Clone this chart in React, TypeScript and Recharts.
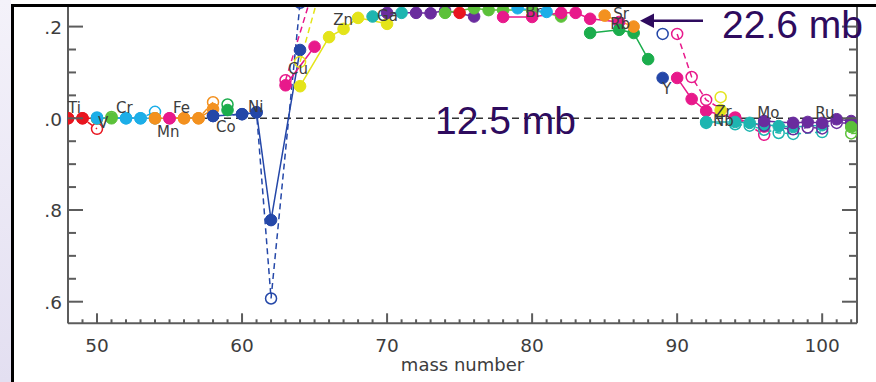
import { LineChart, Line, XAxis, YAxis, ReferenceLine, ReferenceDot } from "recharts";

type Pt = [number, number];

// [mass number, ratio] — filled symbols joined by solid lines, open symbols by dashed lines
const tiFilled: Pt[] = [[46, 1.0], [47, 1.0], [48, 1.0], [49, 1.0], [50, 1.0]];
const tiOpen: Pt[] = [[46, 1.0], [47, 1.0], [48, 1.0], [49, 1.0], [50, 0.977]];
const vFilled: Pt[] = [[50, 1.0], [51, 1.0]];
const vOpen: Pt[] = [[50, 1.0], [51, 1.003]];
const crFilled: Pt[] = [[50, 1.0], [52, 1.0], [53, 1.0], [54, 1.0]];
const crOpen: Pt[] = [[50, 1.002], [52, 1.0], [53, 1.0], [54, 1.014]];
const mnFilled: Pt[] = [[55, 1.0]];
const mnOpen: Pt[] = [[55, 1.0]];
const feFilled: Pt[] = [[54, 1.0], [56, 1.0], [57, 1.0], [58, 1.02]];
const feOpen: Pt[] = [[54, 1.0], [56, 1.0], [57, 1.0], [58, 1.035]];
const coFilled: Pt[] = [[59, 1.018]];
const coOpen: Pt[] = [[59, 1.03]];
const niFilled: Pt[] = [[58, 1.005], [60, 1.009], [61, 1.013], [62, 0.778], [64, 1.149]];
const niOpen: Pt[] = [[58, 1.005], [60, 1.009], [61, 1.013], [62, 0.607], [64, 1.252]];
const cuFilled: Pt[] = [[63, 1.072], [65, 1.156]];
const cuOpen: Pt[] = [[63, 1.083], [65, 1.29]];
const znFilled: Pt[] = [[64, 1.07], [66, 1.177], [67, 1.195], [68, 1.219], [70, 1.206]];
const znOpen: Pt[] = [[64, 1.123], [66, 1.35]];
const gaFilled: Pt[] = [[69, 1.222], [71, 1.23]];
const geFilled: Pt[] = [[70, 1.23], [72, 1.23], [73, 1.229], [74, 1.235], [76, 1.222]];
const asFilled: Pt[] = [[75, 1.23]];
const seFilled: Pt[] = [[74, 1.23], [76, 1.24], [77, 1.236], [78, 1.236], [80, 1.236], [82, 1.222]];
const brFilled: Pt[] = [[79, 1.24], [81, 1.232]];
const krFilled: Pt[] = [[78, 1.221], [80, 1.221], [82, 1.23], [83, 1.23], [84, 1.217], [86, 1.21]];
const rbFilled: Pt[] = [[85, 1.224], [87, 1.2]];
const srFilled: Pt[] = [[84, 1.186], [86, 1.193], [87, 1.186], [88, 1.129]];
const yFilled: Pt[] = [[89, 1.088]];
const yOpen: Pt[] = [[89, 1.184]];
const zrFilled: Pt[] = [[90, 1.088], [91, 1.042], [92, 1.016], [94, 1.0], [96, 0.982]];
const zrOpen: Pt[] = [[90, 1.184], [91, 1.09], [92, 1.04], [94, 1.002], [96, 0.964]];
const nbFilled: Pt[] = [[93, 1.018]];
const nbOpen: Pt[] = [[93, 1.046]];
const moFilled: Pt[] = [[92, 0.992], [94, 0.992], [95, 0.99], [96, 0.986], [97, 0.983], [98, 0.981], [100, 0.985]];
const moOpen: Pt[] = [[92, 0.99], [94, 0.987], [95, 0.984], [96, 0.975], [97, 0.968], [98, 0.966], [100, 0.97]];
const ruFilled: Pt[] = [[96, 0.994], [98, 0.99], [99, 0.992], [100, 0.99], [101, 0.998], [102, 0.994], [104, 0.99]];
const ruOpen: Pt[] = [[96, 0.984], [98, 0.976], [99, 0.98], [100, 0.978], [101, 0.99], [102, 0.99], [104, 0.985]];
const pdFilled: Pt[] = [[102, 0.981], [104, 0.98]];
const pdOpen: Pt[] = [[102, 0.967], [104, 0.97]];

// element names and where they are written (mass number, ratio)
const elementLabels: [string, number, number][] = [
  ["Ti", 48.0, 1.0116],
  ["V", 50.07, 0.979],
  ["Cr", 51.31, 1.0116],
  ["Mn", 54.14, 0.959],
  ["Fe", 55.24, 1.0116],
  ["Co", 58.21, 0.97],
  ["Ni", 60.41, 1.0137],
  ["Cu", 63.17, 1.0966],
  ["Zn", 66.28, 1.2035],
  ["Ga", 69.31, 1.2122],
  ["Ge", 72.55, 1.244],
  ["As", 75.03, 1.244],
  ["Br", 79.52, 1.221],
  ["Sr", 85.59, 1.2166],
  ["Rb", 85.38, 1.195],
  ["Y", 88.97, 1.053],
  ["Zr", 92.62, 1.0028],
  ["Nb", 92.48, 0.983],
  ["Mo", 95.52, 1.0007],
  ["Ru", 99.52, 1.0007],
];

const xMajor = [50, 60, 70, 80, 90, 100];
const xTicks = Array.from({ length: 55 }, (_, i) => 48 + i);
const yMajor = [0.6, 0.8, 1.0, 1.2];
const yMajorLabels = [".6", ".8", ".0", ".2"];
const yTicks = [0.6, 0.65, 0.7, 0.75, 0.8, 0.85, 0.9, 0.95, 1.0, 1.05, 1.1, 1.15, 1.2];

const RED = "#e8151f";
const CYAN = "#1caee8";
const LGREEN = "#5cc13a";
const GREEN = "#1bad4c";
const ORANGE = "#f3911f";
const MAGENTA = "#e8198b";
const BLUE = "#2447a8";
const YELLOW = "#e4e41a";
const TEAL = "#1eb5b0";
const PURPLE = "#6a2c9e";

const series = [
  { id: "ti", color: RED, filled: tiFilled, open: tiOpen },
  { id: "v", color: LGREEN, filled: vFilled, open: vOpen },
  { id: "cr", color: CYAN, filled: crFilled, open: crOpen },
  { id: "mn", color: MAGENTA, filled: mnFilled, open: mnOpen },
  { id: "fe", color: ORANGE, filled: feFilled, open: feOpen },
  { id: "co", color: GREEN, filled: coFilled, open: coOpen },
  { id: "ni", color: BLUE, filled: niFilled, open: niOpen },
  { id: "cu", color: MAGENTA, filled: cuFilled, open: cuOpen },
  { id: "zn", color: YELLOW, filled: znFilled, open: znOpen },
  { id: "ga", color: TEAL, filled: gaFilled, open: [] as Pt[] },
  { id: "ge", color: PURPLE, filled: geFilled, open: [] as Pt[] },
  { id: "se", color: LGREEN, filled: seFilled, open: [] as Pt[] },
  { id: "as", color: RED, filled: asFilled, open: [] as Pt[] },
  { id: "kr", color: MAGENTA, filled: krFilled, open: [] as Pt[] },
  { id: "br", color: CYAN, filled: brFilled, open: [] as Pt[] },
  { id: "sr", color: GREEN, filled: srFilled, open: [] as Pt[] },
  { id: "rb", color: ORANGE, filled: rbFilled, open: [] as Pt[] },
  { id: "y", color: BLUE, filled: yFilled, open: yOpen },
  { id: "zr", color: MAGENTA, filled: zrFilled, open: zrOpen },
  { id: "mo", color: TEAL, filled: moFilled, open: moOpen },
  { id: "nb", color: YELLOW, filled: nbFilled, open: nbOpen },
  { id: "ru", color: PURPLE, filled: ruFilled, open: ruOpen },
  { id: "pd", color: LGREEN, filled: pdFilled, open: pdOpen },
];

const toRows = (pts: Pt[]) => pts.map(([a, r]) => ({ a, r }));

const AXIS = "#5c5c5c";
const TXT = "#3d3d3d";
const FONT = "'DejaVu Sans', sans-serif";
const PLOT_LEFT = 68;
const PLOT_RIGHT = 857;
const PLOT_BOTTOM = 323.3;
const INK = "#2e0b5e";

function LeftTick({ y, payload }: any) {
  const i = yMajor.findIndex((m) => Math.abs(m - payload.value) < 1e-6);
  return (
    <g>
      <line x1={PLOT_LEFT} x2={PLOT_LEFT + (i >= 0 ? 15 : 8)} y1={y} y2={y} stroke={AXIS} strokeWidth={2} />
      {i >= 0 && (
        <text x={62} y={y + 7.5} textAnchor="end" fontSize={18.5} fontFamily={FONT} fill={TXT}>
          {yMajorLabels[i]}
        </text>
      )}
    </g>
  );
}

function RightTick({ y, payload }: any) {
  const major = yMajor.some((m) => Math.abs(m - payload.value) < 1e-6);
  return (
    <line x1={PLOT_RIGHT} x2={PLOT_RIGHT - (major ? 15 : 8)} y1={y} y2={y} stroke={AXIS} strokeWidth={2} />
  );
}

function BottomTick({ x, payload }: any) {
  const major = xMajor.includes(payload.value);
  return (
    <g>
      <line x1={x} x2={x} y1={PLOT_BOTTOM} y2={PLOT_BOTTOM - (major ? 10 : 4)} stroke={AXIS} strokeWidth={2} />
      {major && (
        <text x={x} y={351.5} textAnchor="middle" fontSize={18.5} fontFamily={FONT} fill={TXT}>
          {payload.value}
        </text>
      )}
    </g>
  );
}

export default function App() {
  return (
    <div
      style={{
        position: "absolute",
        left: 0,
        top: 0,
        width: 876,
        height: 382,
        background: "#fff",
        overflow: "hidden",
      }}
    >
      <LineChart width={876} height={382} margin={{ top: 6, right: 0, bottom: 0, left: 8 }}>
        <XAxis
          type="number"
          dataKey="a"
          domain={[48, 102.4]}
          allowDataOverflow
          ticks={xTicks}
          interval={0}
          tick={<BottomTick />}
          tickLine={false}
          axisLine={{ stroke: AXIS, strokeWidth: 2 }}
          height={58.7}
          label={{
            value: "mass number",
            position: "insideBottom",
            offset: 11,
            fontSize: 18,
            fontFamily: FONT,
            fill: TXT,
          }}
        />
        <YAxis
          yAxisId="l"
          type="number"
          domain={[0.5529, 1.2449]}
          allowDataOverflow
          ticks={yTicks}
          interval={0}
          tick={<LeftTick />}
          tickLine={false}
          axisLine={{ stroke: AXIS, strokeWidth: 2 }}
          width={60}
        />
        <YAxis
          yAxisId="r"
          orientation="right"
          type="number"
          domain={[0.5529, 1.2449]}
          allowDataOverflow
          ticks={yTicks}
          interval={0}
          tick={<RightTick />}
          tickLine={false}
          axisLine={{ stroke: AXIS, strokeWidth: 2 }}
          width={19}
        />
        <ReferenceLine yAxisId="l" y={1} stroke="#333" strokeWidth={1.5} strokeDasharray="7 5" />
        {series.flatMap((s) => [
          s.open.length > 0 && (
            <Line
              key={s.id + "-open"}
              yAxisId="l"
              data={toRows(s.open)}
              dataKey="r"
              type="linear"
              stroke={s.color}
              strokeWidth={1.5}
              strokeDasharray="6 4"
              dot={{ r: 5.5, fill: "none", stroke: s.color, strokeWidth: 1.5, strokeDasharray: "none" }}
              activeDot={false}
              isAnimationActive={false}
            />
          ),
          <Line
            key={s.id + "-filled"}
            yAxisId="l"
            data={toRows(s.filled)}
            dataKey="r"
            type="linear"
            stroke={s.color}
            strokeWidth={1.5}
            dot={{ r: 5.8, fill: s.color, stroke: s.color, strokeWidth: 1 }}
            activeDot={false}
            isAnimationActive={false}
          />,
        ])}
        {elementLabels.map(([name, a, r]) => (
          <ReferenceDot
            key={name}
            yAxisId="l"
            x={a}
            y={r}
            r={0}
            ifOverflow="visible"
            shape={(p: any) => (
              <text x={p.cx} y={p.cy} fontSize={15} fontFamily={FONT} fill={TXT}>
                {name}
              </text>
            )}
          />
        ))}
      </LineChart>

      <svg width={876} height={382} style={{ position: "absolute", left: 0, top: 0, pointerEvents: "none" }}>
        <defs>
          <linearGradient id="side" x1="0" y1="0" x2="0" y2="1">
            <stop offset="0" stopColor="#f4f2fa" />
            <stop offset="1" stopColor="#e3dff1" />
          </linearGradient>
        </defs>
        <rect x={0} y={0} width={11} height={382} fill="url(#side)" />
        <rect x={11} y={0} width={865} height={4} fill="#fff" />
        <rect x={11} y={4} width={865} height={3} fill="#000" />
        <rect x={11} y={4} width={3} height={378} fill="#000" />
        <text x={435} y={133.5} fontSize={39} fontFamily="'Liberation Sans', Arial, sans-serif" fill={INK}>
          12.5 mb
        </text>
        <text x={722} y={37.5} fontSize={39} fontFamily="'Liberation Sans', Arial, sans-serif" fill={INK}>
          22.6 mb
        </text>
        <line x1={703} y1={20.7} x2={650} y2={20.7} stroke={INK} strokeWidth={2.5} />
        <polygon points="640,20.7 654,13.5 654,28" fill={INK} />
      </svg>
    </div>
  );
}
